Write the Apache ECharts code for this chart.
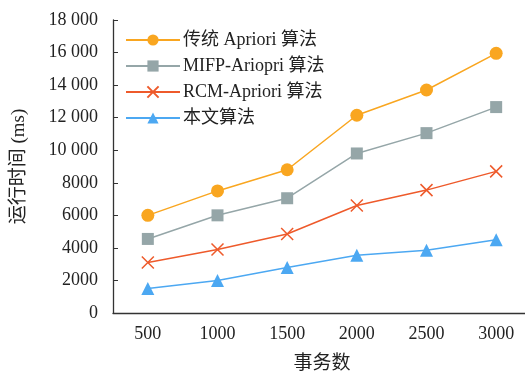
<!DOCTYPE html>
<html>
<head>
<meta charset="utf-8">
<script src="https://cdn.jsdelivr.net/npm/echarts@6/dist/echarts.min.js"></script>
<style>html,body{margin:0;padding:0;background:#fff;}#c{width:525px;height:374px;}</style>
</head>
<body>
<div id="c"></div>
<script>
const categories = ['500', '1000', '1500', '2000', '2500', '3000'];
const seriesNames = ['传统 Apriori 算法', 'MIFP-Ariopri 算法', 'RCM-Apriori 算法', '本文算法'];
const apriori = [6000, 7500, 8800, 12150, 13700, 15950];
const mifp = [4550, 6000, 7050, 9800, 11050, 12650];
const rcm = [3100, 3900, 4850, 6600, 7550, 8700];
const ours = [1500, 2000, 2800, 3550, 3850, 4500];
const yTicks = [0, 2000, 4000, 6000, 8000, 10000, 12000, 14000, 16000, 18000];

const FONT = "'Liberation Serif', 'Times New Roman', 'Noto Sans CJK SC', serif";
const colors = ['#F9A620', '#95A6A8', '#EE5A2B', '#4CA8F2'];
const symbols = ['circle', 'rect', 'path://M0,0L10,10M10,0L0,10', 'triangle'];
const sizes = [13, 12, 12, 13];
const datas = [apriori, mifp, rcm, ours];

const chart = echarts.init(document.getElementById('c'));
chart.setOption({
  animation: false,
  textStyle: { fontFamily: FONT },
  grid: { left: 113, top: 20, bottom: 61, width: 418, outerBoundsMode: 'none', containLabel: false },
  legend: {
    orient: 'vertical', left: 120, top: 26,
    itemWidth: 54, itemHeight: 14, itemGap: 8,
    textStyle: { fontFamily: FONT, fontSize: 18, color: '#222', padding: [0, 0, 0, -2] },
    data: seriesNames
  },
  xAxis: {
    type: 'category', data: categories, boundaryGap: true,
    name: '事务数', nameLocation: 'middle', nameGap: 42,
    nameTextStyle: { fontFamily: FONT, fontSize: 19, color: '#222' },
    axisLine: { lineStyle: { color: '#333', width: 1.3 } },
    axisTick: { alignWithLabel: true, inside: true, length: 5, lineStyle: { color: '#333' } },
    axisLabel: { fontFamily: FONT, fontSize: 18, color: '#222', margin: 12 }
  },
  yAxis: {
    type: 'value', min: 0, max: 18000, interval: 2000,
    name: '运行时间 (ms)', nameLocation: 'middle', nameGap: 84, nameRotate: 90,
    nameTextStyle: { fontFamily: FONT, fontSize: 19, color: '#222' },
    splitLine: { show: false },
    axisLine: { show: true, lineStyle: { color: '#333', width: 1.3 } },
    axisTick: { show: true, inside: true, length: 5, lineStyle: { color: '#333' } },
    axisLabel: {
      fontFamily: FONT, fontSize: 18, color: '#222', margin: 15,
      formatter: v => v >= 10000 ? String(v).replace(/(\d+)(\d{3})$/, '$1 $2') : String(v)
    }
  },
  series: seriesNames.map((n, i) => ({
    name: n, type: 'line', data: datas[i],
    symbol: symbols[i], symbolSize: sizes[i],
    lineStyle: { color: colors[i], width: 1.5 },
    itemStyle: { color: colors[i], borderColor: colors[i], borderWidth: i === 2 ? 1.5 : 0 }
  }))
});
</script>
</body>
</html>
